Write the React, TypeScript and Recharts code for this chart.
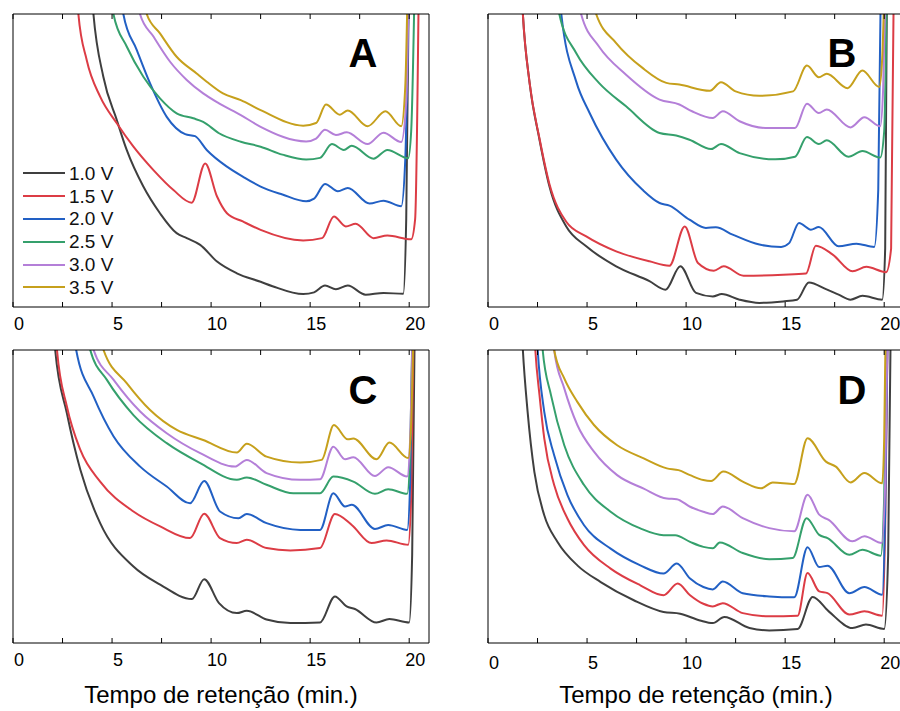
import React from 'react';
import { LineChart, Line, XAxis, YAxis, Legend } from 'recharts';

const voltages = ['1.0 V', '1.5 V', '2.0 V', '2.5 V', '3.0 V', '3.5 V'];
const colors = ['#3f3f3f', '#dc3c45', '#2260c4', '#35a06c', '#b47fd8', '#c6a01c'];
const xTicks = [0, 2.5, 5, 7.5, 10, 12.5, 15, 17.5, 20];
const xTickLabels = ['0', '', '5', '', '10', '', '15', '', '20'];
const xTitle = 'Tempo de retenção (min.)';

// [time (min), signal (a.u.)]
const a10 = [[3.8, 125], [4.06, 100], [4.56, 78.6], [5.24, 63.8], [5.74, 53.6], [6.58, 41.1], [7.42, 32.0], [8.26, 25.2], [8.77, 23.5], [9.45, 21.2], [10.3, 15.5], [11.3, 11.5], [12.5, 8.6], [13.1, 7.1], [14.65, 4.4], [15.2, 5.0], [15.75, 7.3], [16.3, 6.1], [16.9, 7.3], [17.8, 4.2], [18.7, 4.8], [19.7, 4.5], [19.85, 30], [20.0, 120]];
const a15 = [[3.1, 120], [3.3, 100], [3.72, 84.3], [4.4, 71.8], [5.24, 62.7], [6.08, 54.7], [7.09, 46.7], [8.1, 39.9], [9.02, 35.6], [9.7, 49.0], [10.3, 37.7], [10.8, 32.0], [11.6, 29.2], [12.5, 26.3], [14.65, 22.7], [15.6, 23.5], [16.2, 30.9], [16.8, 27.5], [17.3, 28.4], [18.2, 23.5], [18.9, 24.4], [20.1, 23.1], [20.3, 30], [20.5, 120]];
const a20 = [[5.35, 120], [5.57, 100], [6.25, 87.7], [6.92, 76.3], [7.76, 64.9], [8.69, 59.0], [9.19, 58.3], [9.78, 53.6], [10.8, 47.9], [11.6, 44.5], [12.5, 41.1], [13.6, 38.4], [14.8, 36.1], [15.2, 37], [15.75, 42.0], [16.4, 39.5], [16.9, 40.6], [18.0, 35.3], [18.7, 36.3], [19.6, 34.4], [19.8, 50], [20.0, 120]];
const a25 = [[4.85, 120], [5.07, 100], [5.74, 88.9], [6.58, 78.6], [7.42, 71.2], [8.26, 66.1], [9.1, 64.4], [9.6, 63.2], [10.4, 59.3], [11.5, 56.4], [12.5, 54.7], [13.6, 52.0], [14.8, 50.3], [15.5, 50.9], [16.1, 55.6], [16.7, 53.6], [17.1, 55.0], [18.2, 50.6], [18.9, 53.6], [19.95, 50.8], [20.1, 60], [20.3, 120]];
const a30 = [[6.2, 120], [6.41, 100], [7.09, 92.3], [7.93, 83.7], [8.77, 77.5], [9.6, 72.9], [10.4, 69.5], [11.5, 65.5], [12.5, 61.5], [14.8, 56.5], [15.3, 57.5], [15.75, 60.5], [16.3, 58.7], [16.85, 59.6], [17.9, 55.6], [18.7, 59.5], [19.6, 56.3], [19.85, 70], [20.0, 120]];
const a35 = [[6.55, 120], [6.75, 100], [7.42, 93.4], [8.26, 85.4], [9.27, 79.7], [9.78, 76.9], [10.6, 72.9], [11.5, 70.6], [12.5, 67.2], [14.65, 61.9], [15.3, 62.8], [15.8, 69.1], [16.5, 65.6], [16.9, 67.1], [17.9, 61.7], [18.8, 66.8], [19.6, 61.7], [19.8, 75], [19.95, 120]];

const b10 = [[1.5, 140], [1.76, 100], [2.1, 76.5], [2.6, 57.1], [3.1, 41.2], [3.95, 27.5], [4.96, 20.7], [6.47, 13.9], [8.15, 8.8], [8.96, 5.9], [9.71, 13.9], [10.5, 4.8], [11.35, 3.6], [11.8, 4.4], [12.7, 2.5], [13.7, 1.4], [14.9, 1.9], [15.6, 2.5], [16.2, 8.4], [17.06, 6.1], [17.7, 4.2], [18.3, 2.5], [18.9, 3.8], [19.9, 2.5], [20.05, 20], [20.15, 120]];
const b15 = [[1.5, 140], [1.76, 100], [2.1, 76.5], [2.6, 57.5], [3.1, 42], [3.95, 29.1], [4.96, 24.1], [6.47, 19.0], [8.15, 15.6], [9.16, 14.1], [9.93, 27.5], [10.6, 15.0], [11.4, 12.4], [11.9, 13.9], [12.9, 10.7], [14.9, 11.0], [16.05, 11.4], [16.55, 20.9], [17.4, 17.9], [18.4, 12.2], [19.1, 13.7], [20.1, 11.9], [20.35, 20], [20.5, 120]];
const b20 = [[3.4, 130], [3.7, 100], [4.45, 77], [5.13, 66.2], [6.47, 50.3], [7.8, 40.0], [8.66, 35.5], [9.16, 34.6], [10.17, 29.8], [11.0, 27.0], [11.5, 27.2], [12.35, 24.7], [13.7, 21.3], [14.8, 20.5], [15.2, 21.8], [15.7, 28.7], [16.3, 26.4], [16.7, 27.3], [17.7, 20.7], [18.6, 21.6], [19.5, 20.5], [19.7, 40], [19.85, 120]];
const b25 = [[3.3, 130], [3.6, 100], [4.45, 86.7], [5.6, 76.5], [6.97, 68.5], [8.66, 59.4], [9.5, 58.5], [10.17, 57.1], [11.26, 53.9], [11.76, 55.6], [12.7, 52.5], [14.5, 50.4], [15.5, 51.3], [16.1, 58.0], [16.7, 55.6], [17.1, 56.9], [18.2, 51.3], [18.9, 53.2], [19.8, 51.0], [20.0, 60], [20.15, 120]];
const b30 = [[4.4, 125], [4.7, 100], [5.6, 88.9], [6.97, 79.3], [8.66, 70.8], [9.66, 69.1], [10.3, 66.8], [11.35, 64.5], [11.85, 66.8], [12.7, 63.4], [14.0, 61.1], [15.5, 61.1], [16.1, 69.4], [16.7, 66.2], [17.1, 67.4], [18.3, 61.3], [19.0, 64.8], [19.8, 61.7], [19.95, 75], [20.1, 120]];
const b35 = [[5.1, 125], [5.46, 100], [6.47, 90.1], [7.8, 81.6], [9.0, 76.5], [9.66, 75.9], [11.2, 73.8], [11.76, 76.7], [12.5, 73.6], [13.7, 72.1], [15.4, 73.6], [16.1, 82.4], [16.7, 78.4], [17.1, 79.6], [18.15, 74.7], [18.9, 80.7], [19.75, 75.1], [19.9, 85], [20.05, 120]];

const c10 = [[1.9, 130], [2.13, 100], [2.72, 78.4], [3.4, 59.1], [4.4, 40.9], [6.08, 26.1], [7.43, 19.9], [9.03, 15.0], [9.65, 21.8], [10.4, 13.6], [11.3, 10.2], [11.8, 11.0], [12.8, 8.0], [14.0, 6.8], [15.5, 7.0], [16.25, 15.9], [16.84, 12.5], [17.26, 11.6], [18.35, 7.0], [19.0, 8.2], [20.0, 7.0], [20.15, 30], [20.3, 120]];
const c15 = [[2.0, 130], [2.22, 100], [2.72, 80.7], [3.4, 65.9], [4.4, 55.1], [6.08, 44.9], [7.43, 39.8], [8.94, 35.8], [9.65, 44.1], [10.45, 35.8], [11.3, 34.1], [11.8, 35.2], [12.8, 32.4], [14.0, 31.6], [15.5, 32.4], [16.25, 44.0], [17.1, 40.3], [18.1, 34.1], [18.86, 35.0], [19.95, 33.5], [20.1, 50], [20.25, 120]];
const c20 = [[2.9, 130], [3.19, 100], [4.07, 84.1], [5.08, 70.5], [6.42, 60.2], [7.76, 53.4], [8.94, 47.7], [9.65, 55.3], [10.45, 44.9], [11.38, 42.6], [11.8, 44.0], [12.8, 40.9], [14.5, 38.6], [15.5, 38.6], [16.17, 51.1], [16.76, 46.6], [17.1, 47.2], [18.27, 38.9], [18.94, 40.3], [19.9, 38.6], [20.05, 55], [20.2, 120]];
const c25 = [[3.6, 125], [3.9, 100], [4.74, 89.8], [6.08, 77.8], [7.76, 68.2], [9.45, 61.4], [11.3, 55.7], [11.8, 56.5], [12.8, 54.0], [14.15, 51.1], [15.5, 51.1], [16.17, 56.8], [17.18, 55.1], [18.27, 50.9], [18.94, 52.5], [19.9, 50.9], [20.05, 65], [20.2, 120]];
const c30 = [[3.8, 125], [4.07, 100], [5.08, 89.8], [6.42, 79.0], [7.76, 71.6], [9.45, 64.8], [11.2, 60.2], [11.8, 62.5], [12.8, 58.0], [14.5, 55.7], [15.5, 55.9], [16.17, 67.0], [16.76, 62.7], [17.18, 63.4], [18.27, 57.0], [18.94, 60.0], [19.9, 56.8], [20.05, 70], [20.2, 120]];
const c35 = [[4.3, 125], [4.57, 100], [5.75, 88.6], [6.92, 79.5], [8.27, 72.7], [9.6, 69.3], [11.3, 65.0], [11.8, 68.0], [12.8, 63.6], [14.5, 61.6], [15.58, 62.5], [16.2, 74.4], [16.9, 69.5], [17.18, 69.8], [18.35, 62.7], [19.0, 68.4], [19.95, 63.1], [20.1, 75], [20.25, 120]];

const d10 = [[1.5, 140], [1.76, 100], [2.0, 78.9], [2.34, 58.4], [2.84, 43.6], [3.51, 34.5], [4.51, 26.5], [5.69, 20.8], [7.36, 14.6], [8.86, 10.6], [9.7, 10.0], [10.7, 7.7], [11.35, 6.8], [11.93, 8.9], [13.2, 5.1], [14.2, 4.3], [15.63, 4.8], [16.39, 15.7], [17.2, 10.8], [18.4, 5.1], [19.08, 6.3], [20.0, 4.8], [20.2, 30], [20.35, 120]];
const d15 = [[2.2, 130], [2.39, 100], [2.6, 84.6], [2.84, 69.8], [3.34, 53.9], [4.01, 42.5], [4.85, 33.4], [6.19, 25.4], [7.69, 19.7], [8.86, 16.3], [9.58, 20.3], [10.2, 16.3], [10.87, 13.4], [11.35, 12.5], [11.85, 13.6], [12.86, 10.2], [14.2, 9.1], [15.63, 9.3], [16.13, 23.9], [16.72, 17.6], [17.14, 17.0], [18.24, 9.7], [19.0, 10.8], [19.9, 9.3], [20.05, 40], [20.2, 120]];
const d20 = [[2.3, 130], [2.51, 100], [2.84, 78.9], [3.34, 64.1], [4.01, 50.5], [4.85, 40.2], [6.19, 32.2], [7.69, 26.5], [8.86, 23.7], [9.53, 27.1], [10.2, 22.0], [10.87, 19.1], [11.35, 18.3], [11.85, 21.0], [12.86, 17.0], [14.2, 15.9], [15.46, 15.6], [16.13, 32.7], [16.72, 25.9], [17.14, 26.4], [18.24, 17.0], [19.0, 19.1], [19.9, 16.5], [20.05, 45], [20.2, 120]];
const d25 = [[2.55, 125], [2.76, 100], [3.18, 84.6], [3.85, 67.5], [4.85, 53.9], [6.19, 44.8], [7.69, 39.1], [8.86, 36.8], [9.45, 36.8], [10.2, 34.5], [10.87, 32.8], [11.35, 32.3], [11.7, 34.3], [12.86, 30.7], [14.2, 28.6], [15.38, 29.0], [16.08, 42.6], [16.72, 36.9], [17.14, 35.8], [18.24, 30.1], [18.9, 31.8], [19.83, 29.8], [20.0, 50], [20.15, 120]];
const d30 = [[3.1, 125], [3.34, 100], [3.85, 86.9], [4.51, 74.4], [5.35, 65.3], [6.52, 57.3], [7.86, 52.7], [9.03, 49.3], [9.53, 49.1], [10.2, 46.5], [10.87, 44.8], [11.35, 44.0], [11.85, 46.6], [12.86, 42.6], [14.2, 39.2], [15.46, 38.1], [16.13, 50.6], [16.72, 43.8], [17.2, 42.0], [18.4, 34.7], [19.0, 36.4], [19.88, 34.1], [20.05, 55], [20.2, 120]];
const d35 = [[3.15, 125], [3.34, 100], [3.85, 90.3], [4.51, 82.3], [5.35, 74.4], [6.52, 67.5], [7.86, 63.0], [9.03, 59.6], [9.62, 59.0], [10.2, 57.3], [10.87, 55.6], [11.26, 55.3], [11.88, 58.5], [12.86, 55.1], [13.78, 52.8], [14.37, 54.8], [15.46, 54.3], [16.13, 69.9], [17.06, 61.9], [17.56, 60.2], [18.3, 54.8], [19.0, 58.0], [19.9, 54.5], [20.0, 70], [20.1, 120]];

const FONT = '"Liberation Sans", Arial, Helvetica, sans-serif';

const toPoints = (pairs: number[][]) => pairs.map(([x, y]) => ({ x, y }));

const LegendBox: React.FC<any> = ({ payload }) => (
  <div style={{ fontFamily: FONT, fontSize: 19, color: '#111' }}>
    {(payload || []).map((p: any) => (
      <div key={p.value} style={{ display: 'flex', alignItems: 'center', height: 22.8 }}>
        <svg width={42} height={4} style={{ display: 'block' }}>
          <line x1={0} y1={2} x2={42} y2={2} stroke={p.color} strokeWidth={2} />
        </svg>
        <span style={{ marginLeft: 4, lineHeight: 1 }}>{p.value}</span>
      </div>
    ))}
  </div>
);

interface PanelProps {
  series: number[][][];
  legend?: boolean;
  title?: boolean;
  tickGap?: number;
}

const Panel: React.FC<PanelProps> = ({ series, legend, title, tickGap = 15 }) => {
  const axisH = title ? 62 : 30;
  const bottom = title ? 10 : 0;
  return (
    <LineChart width={440} height={14 + 293 + axisH + bottom} margin={{ top: 13, right: 10, bottom, left: 12 }}>
      <XAxis
        xAxisId="b"
        dataKey="x"
        type="number"
        domain={[0, 21]}
        allowDataOverflow
        ticks={xTicks}
        interval={0}
        tickFormatter={(v) => xTickLabels[xTicks.indexOf(v)] ?? ''}
        tickSize={-5}
        tickMargin={tickGap}
        height={axisH}
        stroke="#000"
        tick={{ fill: '#000', fontSize: 18, dx: 6 }}
        label={title ? { value: xTitle, position: 'insideBottom', offset: 2, fill: '#000', fontSize: 24 } : undefined}
      />
      <XAxis
        xAxisId="t"
        orientation="top"
        dataKey="x"
        type="number"
        domain={[0, 21]}
        allowDataOverflow
        ticks={xTicks}
        interval={0}
        tickFormatter={() => ''}
        tickSize={-5}
        height={1}
        stroke="#000"
      />
      <YAxis yAxisId="l" domain={[0, 100]} allowDataOverflow tick={false} tickLine={false} width={1} stroke="#000" />
      <YAxis yAxisId="r" orientation="right" domain={[0, 100]} allowDataOverflow tick={false} tickLine={false} width={1} stroke="#000" />
      {series.map((d, i) => (
        <Line
          key={voltages[i]}
          xAxisId="b"
          yAxisId="l"
          data={toPoints(d)}
          dataKey="y"
          name={voltages[i]}
          type="monotone"
          stroke={colors[i]}
          strokeWidth={2}
          dot={false}
          activeDot={false}
          isAnimationActive={false}
        />
      ))}
      {legend && (
        <Legend
          layout="vertical"
          align="center"
          verticalAlign="middle"
          content={<LegendBox />}
          wrapperStyle={{ position: 'absolute', left: 23, top: 162, width: 'auto', height: 'auto' }}
        />
      )}
    </LineChart>
  );
};

export default function App() {
  return (
    <div
      style={{
        position: 'absolute',
        left: 0,
        top: 0,
        width: 900,
        height: 711,
        overflow: 'hidden',
        background: '#fff',
        fontFamily: FONT
      }}>
      <div style={{ position: 'absolute', left: 0, top: 0 }}>
        <Panel series={[a10, a15, a20, a25, a30, a35]} legend />
      </div>
      <div style={{ position: 'absolute', left: 475, top: 0 }}>
        <Panel series={[b10, b15, b20, b25, b30, b35]} />
      </div>
      <div style={{ position: 'absolute', left: 0, top: 336 }}>
        <Panel series={[c10, c15, c20, c25, c30, c35]} title />
      </div>
      <div style={{ position: 'absolute', left: 475, top: 336 }}>
        <Panel series={[d10, d15, d20, d25, d30, d35]} title tickGap={18} />
      </div>
      <svg
        width={900}
        height={711}
        style={{ position: 'absolute', left: 0, top: 0, pointerEvents: 'none' }}>
        <g fontFamily={FONT} fontWeight="bold" fontSize={40} textAnchor="middle" fill="#000">
          <text x={363} y={67}>A</text>
          <text x={842} y={67}>B</text>
          <text x={363} y={404}>C</text>
          <text x={852} y={404}>D</text>
        </g>
      </svg>
    </div>
  );
}
